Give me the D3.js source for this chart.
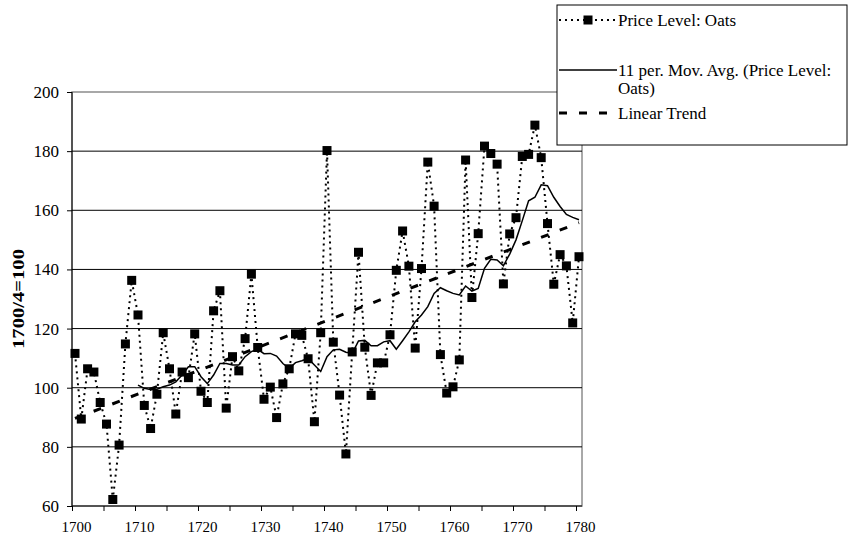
<!DOCTYPE html>
<html>
<head>
<meta charset="utf-8">
<script src="https://cdn.jsdelivr.net/npm/d3@7"></script>
<style>
    body { margin: 0; background: #fff; }
    svg text { font-family: 'Liberation Serif', 'Times New Roman', serif; }
    .grid line { stroke: #000; stroke-width: 1; }
    .axis path, .axis line { stroke: #000; }
    .axis text { fill: #000; }
</style>
</head>
<body>
<div id="plot"></div>
<script>
    var years = d3.range(1700, 1781);

    var oats = [
        111.6, 89.4, 106.4, 105.3, 95.0, 87.7, 62.2, 80.6, 114.8, 136.3,
        124.6, 94.0, 86.2, 97.8, 118.6, 106.4, 91.1, 105.3, 103.4, 118.2,
        98.8, 95.0, 126.0, 132.8, 93.1, 110.5, 105.7, 116.6, 138.4, 113.6,
        96.1, 100.2, 89.9, 101.3, 106.4, 118.2, 117.7, 109.8, 88.5, 118.6,
        180.2, 115.4, 97.5, 77.6, 112.1, 145.8, 113.7, 97.4, 108.4, 108.4,
        117.9, 139.7, 153.0, 141.1, 113.4, 140.3, 176.3, 161.4, 111.2, 98.2,
        100.3, 109.4, 177.0, 130.5, 152.1, 181.7, 179.2, 175.6, 135.1, 152.0,
        157.5, 178.2, 178.9, 188.8, 177.8, 155.5, 135.0, 145.0, 141.2, 121.9,
        144.3
    ];

    var avgYears = d3.range(1710, 1781);

    var movingAvg = [
        100.9, 99.8, 99.4, 99.5, 100.3, 100.9, 102.0, 104.3, 107.1, 107.1,
        103.7, 101.4, 104.3, 108.2, 108.2, 107.7, 107.7, 110.5, 112.2, 113.0,
        111.5, 111.6, 110.7, 108.2, 106.5, 108.5, 109.1, 109.9, 107.7, 105.5,
        110.5, 112.8, 113.0, 112.0, 111.6, 115.8, 116.0, 114.2, 114.2, 115.5,
        115.9, 113.0, 115.9, 118.9, 122.3, 124.6, 127.4, 131.9, 133.8, 132.8,
        131.9, 131.4, 134.4, 132.7, 133.6, 140.4, 143.4, 143.2, 141.2, 145.2,
        150.0, 156.5, 163.2, 164.4, 168.6, 168.3, 164.4, 161.3, 158.6, 157.6,
        156.8
    ];

    var trendYears = [1700, 1780];
    var trendValues = [89.6, 155.8];

    var yTicks = [60, 80, 100, 120, 140, 160, 180, 200];
    var xLabels = [1700, 1710, 1720, 1730, 1740, 1750, 1760, 1770, 1780];
    var xMinorTicks = d3.range(1700, 1781, 5);

    var legendItems = [
        {key: 'oats', lines: ['Price Level: Oats']},
        {key: 'avg', lines: ['11 per. Mov. Avg. (Price Level:', 'Oats)']},
        {key: 'trend', lines: ['Linear Trend']}
    ];

    var serif = "'Liberation Serif', 'Times New Roman', serif";

    var width = 851,
        height = 537,
        plot = {left: 72, right: 582, top: 92, bottom: 506};

    var xScale = d3.scaleLinear()
        .domain([1700, 1780])
        .range([75, 579]);

    var xTickScale = d3.scaleLinear()
        .domain([1700, 1780])
        .range([72, 576]);

    var yScale = d3.scaleLinear()
        .domain([60, 200])
        .range([plot.bottom, plot.top]);

    var svg = d3.select('#plot')
        .append('svg')
        .attr('width', width)
        .attr('height', height)
        .style('display', 'block');

    // plot area border (grey) and gridlines
    svg.append('rect')
        .attr('x', plot.left)
        .attr('y', plot.top)
        .attr('width', plot.right - plot.left)
        .attr('height', plot.bottom - plot.top)
        .attr('fill', 'none')
        .attr('stroke', '#8c8c8c')
        .attr('stroke-width', 1.5);

    svg.append('g')
        .classed('grid', true)
        .selectAll('line')
        .data(yTicks.filter(function(d) { return d > 60 && d < 200; }))
        .enter()
        .append('line')
        .attr('x1', plot.left)
        .attr('x2', plot.right)
        .attr('y1', function(d) { return yScale(d); })
        .attr('y2', function(d) { return yScale(d); });

    // axes
    svg.append('g')
        .classed('axis', true)
        .attr('transform', 'translate(' + plot.left + ',0)')
        .call(d3.axisLeft(yScale).tickValues(yTicks).tickSize(5).tickPadding(8).tickSizeOuter(0))
        .attr('font-family', serif)
        .attr('font-size', 17)
        .call(function(g) { g.select('.domain').attr('d', 'M0,' + plot.top + 'V' + plot.bottom); });

    svg.append('g')
        .classed('axis', true)
        .attr('transform', 'translate(0,' + plot.bottom + ')')
        .call(d3.axisBottom(xTickScale).tickValues(xMinorTicks).tickSize(5).tickFormat('').tickSizeOuter(0))
        .call(function(g) { g.select('.domain').attr('d', 'M' + plot.left + ',0H' + plot.right); });

    svg.append('g')
        .classed('axis', true)
        .attr('transform', 'translate(1,' + plot.bottom + ')')
        .call(d3.axisBottom(xScale).tickValues(xLabels).tickSize(0).tickPadding(15).tickFormat(d3.format('d')))
        .attr('font-family', serif)
        .attr('font-size', 15)
        .call(function(g) { g.select('.domain').remove(); });

    svg.append('text')
        .attr('transform', 'translate(24,' + (plot.top + plot.bottom) / 2 + ') rotate(-90)')
        .attr('text-anchor', 'middle')
        .attr('textLength', 100)
        .attr('lengthAdjust', 'spacingAndGlyphs')
        .style('font-size', '16px')
        .style('font-weight', 'bold')
        .text('1700/4=100');

    // series
    var line = d3.line()
        .x(function(d) { return xScale(d[0]); })
        .y(function(d) { return yScale(d[1]); });

    svg.append('path')
        .datum(d3.zip(trendYears, trendValues))
        .attr('d', line)
        .attr('fill', 'none')
        .attr('stroke', '#000')
        .attr('stroke-width', 3)
        .attr('stroke-dasharray', '8,12');

    svg.append('path')
        .datum(d3.zip(years, oats))
        .attr('d', line)
        .attr('fill', 'none')
        .attr('stroke', '#000')
        .attr('stroke-width', 2)
        .attr('stroke-dasharray', '2,4');

    svg.append('path')
        .datum(d3.zip(avgYears, movingAvg))
        .attr('d', line)
        .attr('fill', 'none')
        .attr('stroke', '#000')
        .attr('stroke-width', 1.5);

    svg.append('g')
        .selectAll('rect')
        .data(d3.zip(years, oats))
        .enter()
        .append('rect')
        .attr('x', function(d) { return xScale(d[0]) - 4.5; })
        .attr('y', function(d) { return yScale(d[1]) - 4.5; })
        .attr('width', 9)
        .attr('height', 9)
        .attr('fill', '#000');

    // legend
    var legend = svg.append('g')
        .attr('transform', 'translate(557,5)');

    legend.append('rect')
        .attr('width', 290)
        .attr('height', 140)
        .attr('fill', '#fff')
        .attr('stroke', '#000')
        .attr('stroke-width', 1);

    var rowY = [15, 65, 108];

    var items = legend.selectAll('g.item')
        .data(legendItems)
        .enter()
        .append('g')
        .attr('class', 'item')
        .attr('transform', function(d, i) { return 'translate(0,' + rowY[i] + ')'; });

    items.append('line')
        .attr('x1', 2)
        .attr('x2', 60)
        .attr('stroke', '#000')
        .attr('stroke-width', function(d) { return d.key === 'trend' ? 3 : (d.key === 'oats' ? 2 : 1.5); })
        .attr('stroke-dasharray', function(d) {
            return d.key === 'trend' ? '8,12' : (d.key === 'oats' ? '2,4' : null);
        });

    items.filter(function(d) { return d.key === 'oats'; })
        .append('rect')
        .attr('x', 26.5)
        .attr('y', -4.5)
        .attr('width', 9)
        .attr('height', 9)
        .attr('fill', '#000');

    items.each(function(d) {
        var t = d3.select(this).append('text')
            .attr('x', 61)
            .attr('y', 6)
            .style('font-size', '17px');
        d.lines.forEach(function(s, j) {
            t.append('tspan')
                .attr('x', 61)
                .attr('dy', j === 0 ? 0 : 18)
                .text(s);
        });
    });
</script>
</body>
</html>
